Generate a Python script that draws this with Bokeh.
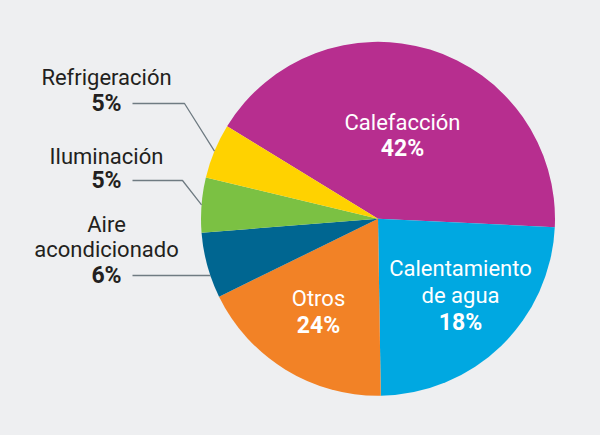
import math
from bokeh.plotting import figure
from bokeh.models import Range1d
from bokeh.core.properties import value
from bokeh.embed import file_html
from bokeh.resources import INLINE

# ---- data ----
categories = ["Calefacción", "Calentamiento de agua", "Otros",
              "Aire acondicionado", "Iluminación", "Refrigeración"]
pct_labels = ["42%", "18%", "24%", "6%", "5%", "5%"]          # as printed
slice_shares = [42, 24, 18, 6, 5, 5]                           # angular size as drawn
colors = ["#b72e8f", "#00a8e1", "#f28226", "#006691", "#7bc143", "#ffd200"]

BG = "#eeeff1"
W, H = 600, 435

def sx(px):
    return px

def sy(py):
    return H - py

cx, cy, R = sx(377.5), sy(218.3), 177.0
a0 = 148.5  # degrees, start of first slice, going clockwise

p = figure(width=W, height=H, output_backend="svg", toolbar_location=None,
           x_range=Range1d(0, W), y_range=Range1d(0, H), min_border=0)
p.axis.visible = False
p.grid.visible = False
p.outline_line_color = None
p.background_fill_color = BG
p.border_fill_color = BG

total = sum(slice_shares)
starts, ends, mids = [], [], []
cum = 0
for s in slice_shares:
    hi = a0 - cum / total * 360
    cum += s
    lo = a0 - cum / total * 360
    starts.append(math.radians(lo))
    ends.append(math.radians(hi))
    mids.append(math.radians((lo + hi) / 2))

p.wedge(x=[cx] * len(slice_shares), y=[cy] * len(slice_shares), radius=R,
        start_angle=starts, end_angle=ends, fill_color=colors,
        line_color=None, direction="anticlock")

FONT = value("Roboto")
NAME_SIZE = "22px"
PCT_SIZE = "23px"
inner = [
    (["Calefacción"], 402, [122], pct_labels[0], 148),
    (["Calentamiento", "de agua"], 460, [268, 295], pct_labels[1], 322),
    (["Otros"], 318, [298], pct_labels[2], 325),
]
for lines, px, pys, pct, ppy in inner:
    p.text(x=[sx(px)] * len(lines), y=[sy(v) for v in pys], text=lines,
           text_color="white", text_font=FONT, text_font_size=NAME_SIZE,
           text_align="center", text_baseline="middle")
    p.text(x=[sx(px)], y=[sy(ppy)], text=[pct], text_color="white",
           text_font=FONT, text_font_size=PCT_SIZE, text_font_style="bold",
           text_align="center", text_baseline="middle")

outer = [
    (["Aire", "acondicionado"], [224, 249], pct_labels[3], 275, None),
    (["Iluminación"], [156], pct_labels[4], 180, 182),
    (["Refrigeración"], [77], pct_labels[5], 103, 184),
]
DARK = "#231f20"
LINE = "#6f7b82"
for i, (lines, pys, pct, ppy, elbow) in enumerate(outer):
    idx = 3 + i
    p.text(x=[sx(106)] * len(lines), y=[sy(v) for v in pys], text=lines,
           text_color=DARK, text_font=FONT, text_font_size=NAME_SIZE,
           text_align="center", text_baseline="middle")
    p.text(x=[sx(106)], y=[sy(ppy)], text=[pct], text_color=DARK,
           text_font=FONT, text_font_size=PCT_SIZE, text_font_style="bold",
           text_align="center", text_baseline="middle")
    ly = sy(ppy)
    if elbow is None:
        ex = cx - math.sqrt(R ** 2 - (ly - cy) ** 2)
        xs, ys = [sx(132), ex], [ly, ly]
    else:
        m = mids[idx]
        ex, ey = cx + R * math.cos(m), cy + R * math.sin(m)
        xs, ys = [sx(132), sx(elbow), ex], [ly, ly, ey]
    p.line(x=xs, y=ys, line_color=LINE, line_width=1.3)

html = file_html(p, INLINE)
html = html.replace("<head>",
                    "<head><style>html,body{margin:0;padding:0;background:%s;overflow:hidden;}</style>" % BG, 1)
open("out.html", "w").write(html)
